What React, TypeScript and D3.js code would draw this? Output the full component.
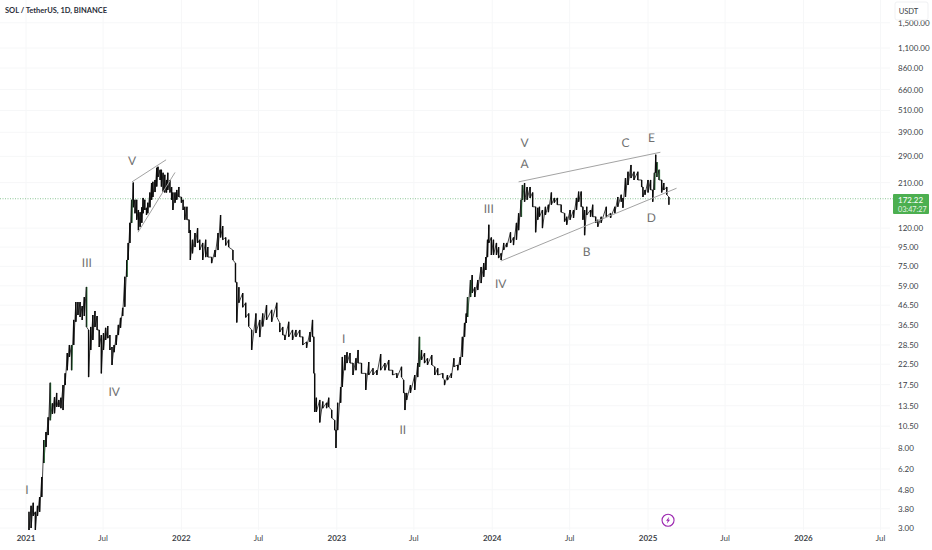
import React from "react";
import * as d3 from "d3";

const WIDTH = 932;
const HEIGHT = 550;

const barDays = [7,12,17,22,27,32,37,42,47,52,57,62,67,72,77,82,87,92,97,102,107,112,117,122,127,132,137,142,147,152,157,162,167,172,177,182,187,192,197,202,207,212,217,222,227,232,237,240,244,248,252,256,260,264,268,272,275,279,283,286,291,295,298,303,307,310,315,318,322,326,330,333,338,342,345,350,354,359,365,369,373,378,383,386,391,397,403,408,415,422,427,436,444,451,457,462,469,476,486,492,495,500,509,516,523,530,540,549,556,565,577,589,596,603,608,617,626,634,643,650,659,667,673,676,678,682,690,697,706,711,718,725,728,732,739,743,749,754,761,768,775,780,788,798,805,815,824,833,843,852,861,871,882,887,890,894,903,913,920,924,929,936,943,953,960,967,979,983,990,999,1005,1014,1020,1025,1030,1034,1037,1044,1048,1054,1061,1069,1075,1080,1084,1087,1093,1098,1105,1110,1116,1122,1129,1138,1145,1152,1157,1163,1166,1171,1177,1184,1190,1197,1202,1206,1213,1220,1227,1234,1241,1248,1257,1265,1270,1278,1286,1293,1298,1304,1308,1312,1317,1326,1331,1338,1343,1351,1363,1373,1383,1390,1398,1402,1408,1414,1421,1428,1437,1446,1449,1454,1461,1467,1472,1476,1479,1482,1487,1493,1498,1505,1510];
const barHighs = [3.66,3.94,4.09,3.66,3.94,4.39,5.62,8.85,9.77,11.7,17.9,13.9,15,15.8,14.5,14.9,17.4,20.1,25.8,28.5,28.5,38.8,48.3,48.3,48.3,46,51.4,58.2,34.3,35.6,41.2,43.3,40.7,34.3,32.2,33,35.2,36,32.2,27.8,28.5,32.2,36.5,39.8,45,65.9,81.1,100,128,170,210,170,170,150,146,155,174,170,154,164,186,209,212,217,252,255,246,246,237,231,217,237,217,199,186,186,192,199,176,170,156,156,133,117,104,113,120,104,100,104,95,84,91.6,113,141,123,107,104,91.6,78,61.7,58,54,47.9,42,34.3,42,38.8,42,46.6,43.9,47.9,37.4,35.6,32.2,37.9,34.3,34.3,34.3,31.5,29.6,33.4,38.8,31.5,20.1,14.9,14.5,14.2,14,14.9,12.8,11.3,10,14,17,24.6,25.2,26.1,25.8,22.8,24.2,26.8,22.8,20.1,23.1,21.4,20.9,25.5,22.8,23.7,20.9,20.1,21.8,18.5,15.8,15.8,17.4,19.7,22.8,31.5,26.8,25.8,24.2,25.2,21.8,21.4,20.1,18.5,19.7,20.1,24.2,22.3,24.6,31.5,37.4,42,51.4,63.4,67.4,58,63.4,74.4,78,84,104,125,107,104,100,95,88,100,100,114,107,128,144,170,204,209,199,199,186,156,154,156,150,156,160,186,174,174,160,144,138,150,150,174,188,188,156,150,156,150,160,138,133,138,156,144,156,176,181,174,222,240,261,240,240,217,199,192,217,217,192,237,296,270,246,217,209,199,176];
const barLows = [2.93,3,3.48,2.93,3.48,3.66,4.39,6.67,8.13,9.41,11.3,12.2,12.3,13.3,13.3,13.1,12.8,17.4,20.9,24.6,20.9,28.5,37.9,41.2,40.2,38.8,40.7,35.6,19.2,26.8,30.3,35.6,34.3,27.8,20.1,26.8,30.3,31,26.8,22.3,26.1,28.5,32.2,35.2,40.7,45.6,65.9,81.1,100,128,155,144,133,117,122,128,144,150,141,144,155,170,176,187,200,225,217,200,188,186,186,192,186,170,150,164,170,176,164,150,133,133,113,81.1,88,95,100,91.6,81.1,84,84,78,84,91.6,107,104,97,95,81.1,61.7,37.6,47.9,45.3,40,35.8,26.8,33,31.4,35.8,38.8,37.9,40.2,33.4,32.2,30.3,31.5,30.3,31.5,31.5,28.5,27.5,29.6,31.5,20.1,12.5,12.5,11,13.1,13.1,13.3,11.6,10,8.03,10,14,17,20.9,22.8,22.8,19.7,20.9,22.8,20.1,16.4,19.7,19.7,19.7,20.9,20.9,20.9,19.7,19,19.2,15.8,12.8,14.5,15.8,16.4,19.2,21.8,23.7,22.8,22.3,22.3,19.7,19.7,19,17.4,18.5,19,21.8,20.9,22.3,24.6,31.5,37.4,40.2,51.4,54,51.4,56,61,65.9,71.7,84,100,86.2,86.2,86.2,83,81.1,91.6,95,100,97.4,104,117,138,170,166,170,174,156,114,133,138,120,141,146,160,164,160,146,130,125,133,136,150,166,156,133,110,141,138,138,128,122,128,138,136,144,156,166,154,176,204,222,217,217,199,176,181,186,192,166,192,237,225,217,186,192,181,160];

const priceTicks = [1500,1100,860,660,510,390,290,210,120,95,75,59,46.5,36.5,28.5,22.5,17.5,13.5,10.5,8,6.2,4.8,3.8,3];
const timeTickDates = ["2021-01-01","2021-07-01","2022-01-01","2022-07-01","2023-01-01","2023-07-01","2024-01-01","2024-07-01","2025-01-01","2025-07-01","2026-01-01","2026-07-01"];
const timeTickLabels = ["2021","Jul","2022","Jul","2023","Jul","2024","Jul","2025","Jul","2026","Jul"];
const yearLabels = ["2021","2022","2023","2024","2025","2026"];

const lineStartDays = [249,263,1157,1115];
const lineStartPrices = [212,114,212,80];
const lineEndDays = [329,350,1490,1528];
const lineEndPrices = [278,238,305,196];

const waveLabels = ["I","III","IV","V","I","II","III","IV","V","A","B","C","D","E"];
const waveDays = [2,143,207,249,746,885,1087,1115,1171,1171,1317,1408,1469,1469];
const wavePrices = [4.79,78.5,16,275,31,10.1,152,61,342,267,89.5,342,136,364];

const greenBarDays = [42,57,107,142,237,248,924,1037,1044,1163,1166,1476,1482,1487];

const lastPrice = 172.22;
const lastPriceLabel = "172.22";
const countdownLabel = "03:47:27";
const titleText = "SOL / TetherUS, 1D, BINANCE";
const currencyLabel = "USDT";
const eventDay = 1508;
const eventPrice = 3.3;

const fontFamily = "Lato, 'Open Sans', sans-serif";

export default function App() {
  const baseDate = Date.UTC(2021, 0, 1);
  const dayMs = 86400000;
  const xTime = d3
    .scaleUtc()
    .domain([new Date("2021-01-01"), new Date("2026-07-01")])
    .range([26, 880.5]);
  const x = (day: number) => xTime(new Date(baseDate + day * dayMs));
  const y = d3.scaleLog().domain([3, 1100]).range([528, 48]);

  const zigzagPoints: [number, number][] = [];
  barDays.forEach((d, i) => {
    zigzagPoints.push([x(d), y(barHighs[i])]);
    zigzagPoints.push([x(d), y(barLows[i])]);
  });
  const zigzag = d3.line()(zigzagPoints) ?? "";

  const ey = y(lastPrice);

  return (
    <svg
      width={WIDTH}
      height={HEIGHT}
      viewBox={`0 0 ${WIDTH} ${HEIGHT}`}
      style={{ position: "fixed", left: 0, top: 0, background: "#fff" }}
    >
      <rect width={WIDTH} height={HEIGHT} fill="#ffffff" />
      {/* grid */}
      <g stroke="#f6f7f8" strokeWidth={1}>
        {priceTicks.map((p) => (
          <line key={p} x1={0} x2={890} y1={y(p)} y2={y(p)} />
        ))}
        {timeTickDates.map((t) => (
          <line key={t} x1={xTime(new Date(t))} x2={xTime(new Date(t))} y1={0} y2={530} />
        ))}
      </g>

      {/* last price line */}
      <line x1={0} x2={893} y1={ey} y2={ey} stroke="#6fb87a" strokeWidth={0.8} strokeDasharray="1 1.5" />

      {/* candles */}
      <path d={zigzag} fill="none" stroke="#0a0a0a" strokeWidth={0.75} strokeLinejoin="round" />
      <g stroke="#0a0a0a" strokeWidth={1.4}>
        {barDays.map((d, i) => (
          <line key={d} x1={x(d)} x2={x(d)} y1={y(barHighs[i])} y2={y(barLows[i])} />
        ))}
      </g>
      <g stroke="#3f9a52" strokeWidth={0.6}>
        {greenBarDays.map((d) => {
          const i = barDays.indexOf(d);
          return <line key={d} x1={x(d) + 0.6} x2={x(d) + 0.6} y1={y(barHighs[i])} y2={y(barLows[i])} />;
        })}
      </g>

      {/* drawn trend lines */}
      <g stroke="#a3a3a3" strokeWidth={1}>
        {lineStartDays.map((d, i) => (
          <line key={d} x1={x(d)} y1={y(lineStartPrices[i])} x2={x(lineEndDays[i])} y2={y(lineEndPrices[i])} />
        ))}
      </g>

      {/* wave labels */}
      <g fill="#717171" fontFamily={fontFamily} fontSize={12} textAnchor="middle" dominantBaseline="central" style={{ textRendering: "geometricPrecision" }}>
        {waveLabels.map((l, i) => (
          <text key={i} x={x(waveDays[i])} y={y(wavePrices[i])}>
            {l}
          </text>
        ))}
      </g>

      {/* title */}
      <text x={5} y={13} fontFamily={fontFamily} fontSize={7.5} fontWeight={700} fill="#2a2e39">
        {titleText}
      </text>

      {/* price axis */}
      <g fill="#3c3f47" fontFamily={fontFamily} fontSize={8} dominantBaseline="central">
        {priceTicks.map((p) => (
          <text key={p} x={898} y={y(p)}>
            {d3.format(",.2f")(p)}
          </text>
        ))}
      </g>
      <rect x={895} y={2} width={33} height={18} rx={2} fill="#ffffff" stroke="#f0f1f3" />
      <text x={908.5} y={11} textAnchor="middle" dominantBaseline="central" fontFamily={fontFamily} fontSize={7.6} fill="#3c3f47">
        {currencyLabel}
      </text>

      {/* last price tag */}
      <rect x={893} y={194} width={36} height={20} rx={1} fill="#4caf50" />
      <text x={898} y={199.5} dominantBaseline="central" fontFamily={fontFamily} fontSize={8} fill="#ffffff">
        {lastPriceLabel}
      </text>
      <text x={898} y={209} dominantBaseline="central" fontFamily={fontFamily} fontSize={7.2} fill="#e8f5e9">
        {countdownLabel}
      </text>

      {/* time axis */}
      <g fontFamily={fontFamily} fontSize={8} fill="#3c3f47" textAnchor="middle">
        {timeTickDates.map((t, i) => (
          <text
            key={t}
            x={xTime(new Date(t))}
            y={541}
            fontWeight={yearLabels.includes(timeTickLabels[i]) ? 700 : 400}
          >
            {timeTickLabels[i]}
          </text>
        ))}
      </g>

      {/* event marker */}
      <g transform={`translate(${x(eventDay)},${y(eventPrice)})`}>
        <circle r={6} fill="#fff" stroke="#9c27b0" strokeWidth={1.1} />
        <path d="M1.2,-3.6 L-2,0.6 L-0.3,0.6 L-1.2,3.6 L2,-0.6 L0.3,-0.6 Z" fill="#9c27b0" />
      </g>
    </svg>
  );
}
